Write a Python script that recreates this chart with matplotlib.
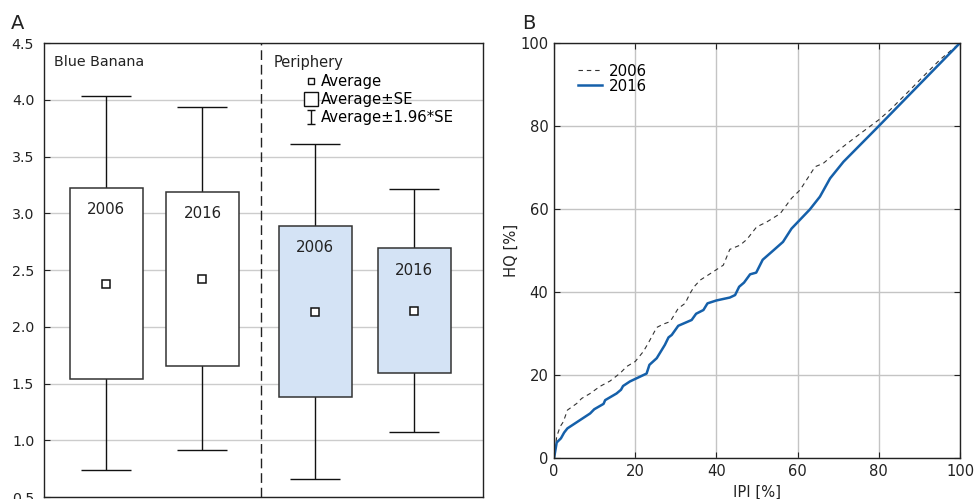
import numpy as np
import matplotlib
matplotlib.use("Agg")
import matplotlib.pyplot as plt
from matplotlib.lines import Line2D
from matplotlib.path import Path

# ---- panel A data (box = mean +- SE, whiskers = mean +- 1.96*SE) ----
groups = ["Blue Banana", "Blue Banana", "Periphery", "Periphery"]
years = ["2006", "2016", "2006", "2016"]
box_top = [3.22, 3.19, 2.885, 2.69]
box_bottom = [1.54, 1.65, 1.38, 1.59]
mean_val = [2.38, 2.42, 2.13, 2.14]
whisk_top = [4.03, 3.94, 3.61, 3.21]
whisk_bottom = [0.735, 0.91, 0.66, 1.07]

# ---- panel B data (cumulative curves) ----
ipi_2006 = [0, 0.66, 1.5, 2.3, 3.3, 5.6, 6.8, 8.9, 11.3, 13.8, 16.3, 17.9, 20,
            22, 23.2, 25.3, 26.9, 28.6, 30.6, 32.3, 33.5, 34.5, 36, 38.4, 41.7,
            43.3, 45.8, 47.5, 49.9, 52.4, 55.7, 58.5, 60.6, 64.3, 66.3, 71.3,
            74.5, 80, 82.8, 87.7, 91, 95.1, 100]
hq_2006 = [0, 5.2, 7.6, 8.8, 11.6, 13.2, 14.4, 15.6, 17.3, 18.6, 20.5, 22.1, 23.3,
           25.7, 27.7, 31.5, 32.3, 32.9, 36.1, 37.3, 39.7, 41.3, 42.9, 44.4, 46.5,
           50.3, 51.3, 52.7, 55.7, 56.9, 58.9, 62.6, 64.6, 70.2, 71, 75.1,
           77.5, 81.5, 83.9, 88.7, 92, 96, 100]
ipi_2016 = [0, 0.66, 1.7, 2.5, 3.3, 8.9, 9.9, 12.2, 12.6, 15.4, 16.5, 17, 18.7,
            22.8, 23.5, 25.3, 26.3, 27.3, 28.2, 29, 30.6, 33.9, 35, 36.8, 37.8,
            40, 43.3, 44.6, 45.6, 46.8, 48.3, 49.8, 51.4, 54.2, 56.4, 58.5, 63,
            65.5, 68, 71.3, 80, 100]
hq_2016 = [0, 3.8, 4.8, 6.2, 7.2, 10.8, 11.8, 13.1, 14.0, 15.6, 16.5, 17.4, 18.5,
           20.4, 22.5, 24.1, 25.7, 27.3, 29.1, 29.7, 31.9, 33.3, 34.8, 35.7, 37.3,
           38, 38.7, 39.3, 41.3, 42.3, 44.3, 44.7, 47.8, 50.2, 52.1, 55.3, 59.9,
           63, 67.4, 71.4, 80, 100]

fill_colors = ["white", "white", "#d4e3f5", "#d4e3f5"]
positions = [0.142, 0.361, 0.618, 0.843]
box_w = 0.166

fig = plt.figure(figsize=(9.79, 4.99), dpi=100)

# ================= panel A =================
ax = fig.add_axes([0.0449, 0.004, 0.4485, 0.9098])
m = np.array(mean_val)
ax.errorbar(positions, mean_val,
            yerr=[m - np.array(whisk_bottom), np.array(whisk_top) - m],
            fmt="none", ecolor="#111111", elinewidth=1.0, capsize=18,
            capthick=1.0, zorder=2)
ax.bar(positions, np.array(box_top) - np.array(box_bottom), bottom=box_bottom,
       width=box_w, color=fill_colors, edgecolor="#333333", linewidth=1.1,
       zorder=3)
ax.plot(positions, mean_val, "s", ms=5.5, mfc="white", mec="#111111",
        mew=1.1, zorder=4)
for p, t, yr in zip(positions, box_top, years):
    ax.text(p, t - 0.19, yr, ha="center", va="center", fontsize=10.8,
            color="#222222", zorder=5)
ax.axvline(0.494, color="#222222", lw=1.0, dashes=(7, 3.5), zorder=2)
ax.text(0.023, 4.33, groups[0], fontsize=10.3, va="center", color="#222222")
ax.text(0.524, 4.33, groups[2], fontsize=10.5, va="center", color="#222222")

ax.set_xlim(0, 1)
ax.set_ylim(0.5, 4.5)
ax.set_yticks(np.arange(0.5, 4.51, 0.5))
ax.set_yticklabels(["%.1f" % v for v in np.arange(0.5, 4.51, 0.5)])
ax.set_xticks([])
ax.tick_params(axis="y", direction="in", length=4, labelsize=10.2, pad=7,
               colors="#222222")
ax.grid(axis="y", color="#cccccc", lw=1.0, zorder=0)
ax.set_axisbelow(True)
for s in ax.spines.values():
    s.set_color("#222222")
    s.set_linewidth(1.0)

ibar = Path([(-0.5, 1), (0.5, 1), (0, 1), (0, -1), (-0.5, -1), (0.5, -1)],
            [Path.MOVETO, Path.LINETO, Path.MOVETO, Path.LINETO,
             Path.MOVETO, Path.LINETO])
leg_handles = [
    Line2D([], [], ls="none", marker="s", ms=5.0, mfc="white", mec="#111111", mew=1.0),
    Line2D([], [], ls="none", marker="s", ms=10.5, mfc="white", mec="#111111", mew=1.0),
    Line2D([], [], ls="none", marker=ibar, ms=10.5, mec="#111111", mew=1.0),
]
ax.legend(leg_handles, ["Average", "Average±SE", "Average±1.96*SE"],
          loc="upper left", bbox_to_anchor=(0.594, 0.932), frameon=False,
          fontsize=10.7, handlelength=0.9, handletextpad=0.15,
          labelspacing=0.22, borderpad=0, borderaxespad=0)

fig.text(0.011, 0.953, "A", fontsize=14, va="center", color="#222222")

# ================= panel B =================
bx = fig.add_axes([0.5659, 0.0816, 0.4147, 0.8323])
bx.plot(ipi_2006, hq_2006, color="#333333", lw=0.8, dashes=(4, 3.5), label="2006")
bx.plot(ipi_2016, hq_2016, color="#1560aa", lw=1.8, label="2016")
bx.set_xlim(0, 100)
bx.set_ylim(0, 100)
bx.set_xticks(np.arange(0, 101, 20))
bx.set_yticks(np.arange(0, 101, 20))
bx.grid(color="#c4c4c4", lw=1.0)
bx.tick_params(direction="in", length=4, top=True, right=True,
               labelsize=10.6, colors="#222222", pad=4)
bx.set_xlabel("IPI [%]", fontsize=10.6, labelpad=4, color="#222222")
bx.set_ylabel("HQ [%]", fontsize=10.6, labelpad=1, color="#222222")
for s in bx.spines.values():
    s.set_color("#222222")
    s.set_linewidth(1.0)
bx.legend(loc="upper left", bbox_to_anchor=(0.06, 0.95), frameon=False,
          fontsize=10.8, handlelength=1.6, handletextpad=0.4,
          labelspacing=0.0, borderpad=0, borderaxespad=0)

fig.text(0.533, 0.953, "B", fontsize=14, va="center", color="#222222")

fig.savefig("out.png", dpi=100)
